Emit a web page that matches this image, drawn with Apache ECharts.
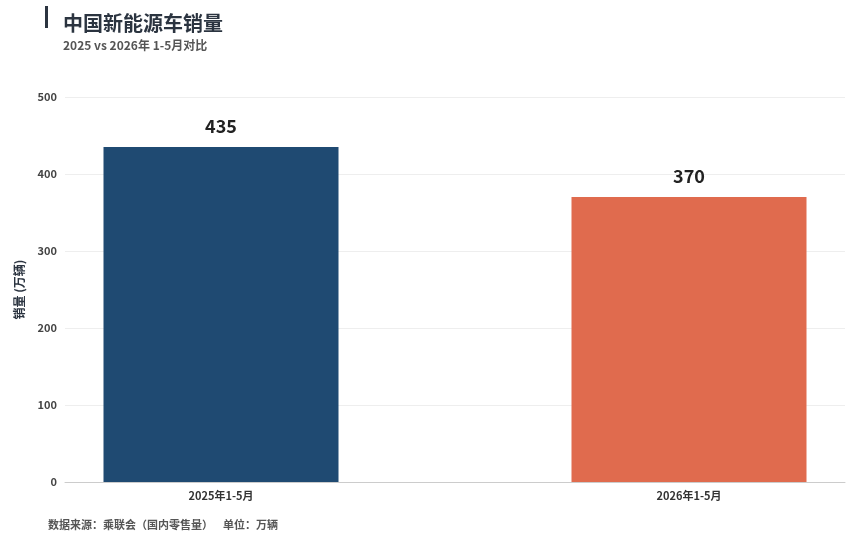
<!DOCTYPE html>
<html><head><meta charset="utf-8">
<script src="https://cdn.jsdelivr.net/npm/echarts@6/dist/echarts.min.js"></script>
<style>html,body{margin:0;background:#fff}#c{width:852px;height:533px}</style>
</head><body><div id="c"></div>
<script>
const categories = ['2025年1-5月', '', '', '2026年1-5月'];
const values = [435, null, null, 370];
const barColors = ['#1f4a72', '#e06b4e', '#e06b4e', '#e06b4e'];
const yTicks = [0, 100, 200, 300, 400, 500];

let chart = echarts.init(document.getElementById('c'));
const font = '"Noto Sans CJK SC", "Noto Sans", sans-serif';
chart.setOption({
    backgroundColor: '#fff',
    textStyle: {fontFamily: font},
    title: {
        text: '中国新能源车销量',
        subtext: '2025 vs 2026年 1-5月对比',
        left: 58, top: 8,
        textStyle: {fontSize: 20, fontWeight: 'bold', color: '#2b3440'},
        subtextStyle: {fontSize: 12, fontWeight: 'bold', color: '#555'},
        itemGap: 6
    },
    graphic: [
        {type: 'rect', left: 45, top: 6, shape: {width: 3, height: 22}, style: {fill: '#2b3440'}},
        {type: 'text', left: 48, top: 519, style: {text: '数据来源：乘联会（国内零售量）    单位：万辆', fill: '#555', font: 'bold 11px ' + font}}
    ],
    grid: {left: 65, right: 7, top: 97, bottom: 51},
    xAxis: {
        type: 'category', data: categories, boundaryGap: false,
        min: -1, max: 4,
        axisTick: {show: false},
        axisLine: {lineStyle: {color: '#ccc'}},
        axisLabel: {color: '#333', fontSize: 11, fontWeight: 'bold', margin: 8, interval: 0}
    },
    yAxis: {
        type: 'value', min: yTicks[0], max: yTicks[yTicks.length - 1], interval: 100,
        name: '销量 (万辆)', nameLocation: 'middle', nameGap: 40,
        nameTextStyle: {fontSize: 12, fontWeight: 'bold', color: '#2b3440'},
        axisLabel: {color: '#444', fontSize: 11, fontWeight: 'bold'},
        splitLine: {lineStyle: {color: '#eee'}}
    },
    series: [{
        type: 'bar', barWidth: 235,
        data: values.map((v, i) => ({value: v, itemStyle: {color: barColors[i]}})),
        label: {show: true, position: 'top', distance: 12, fontSize: 18, fontWeight: 'bold', color: '#222'}
    }]
});
</script></body></html>
